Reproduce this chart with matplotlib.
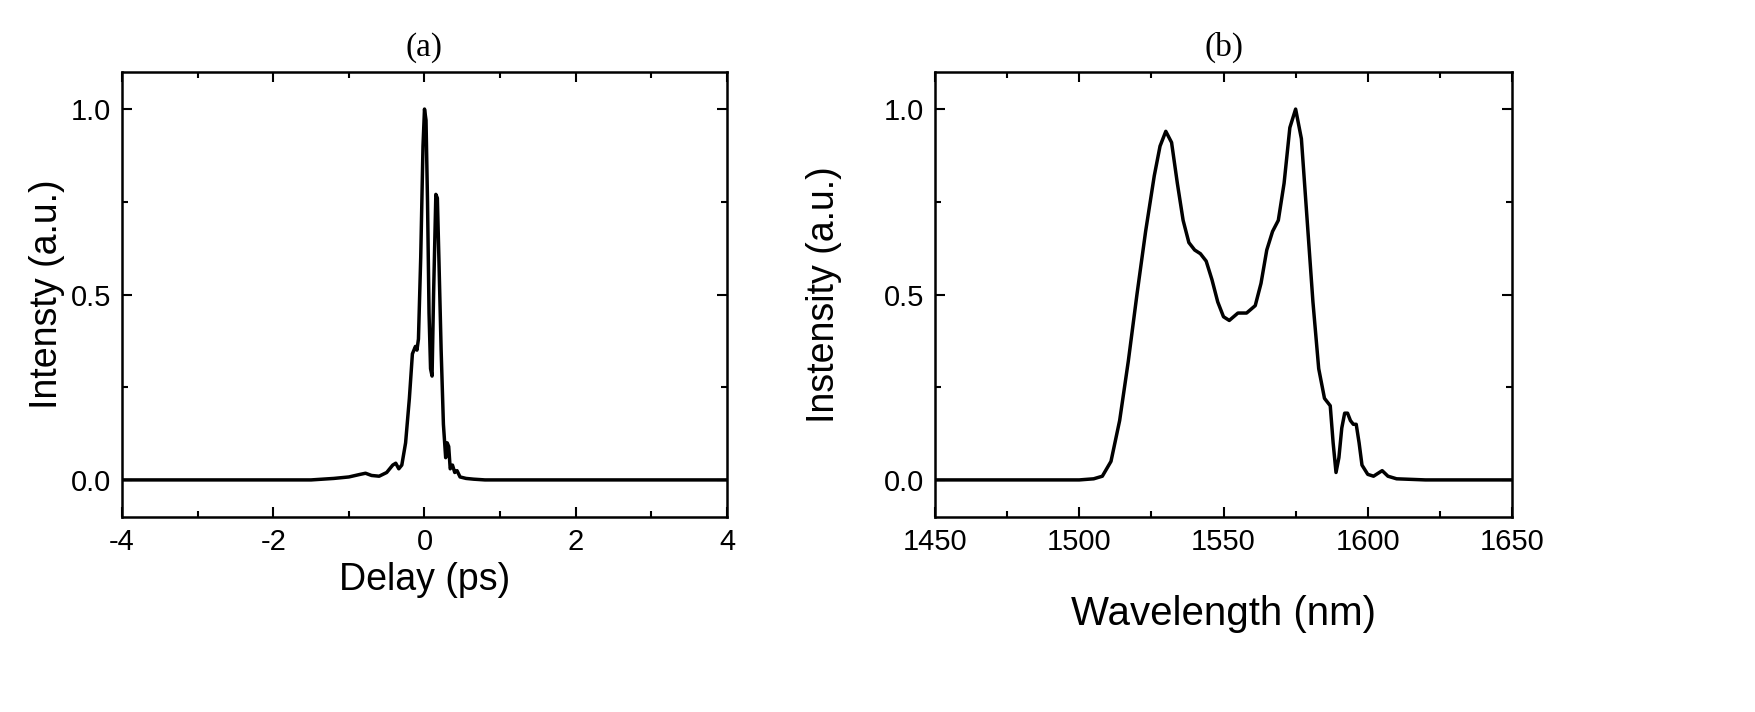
import matplotlib
matplotlib.use('Agg')
import matplotlib.pyplot as plt
from matplotlib.ticker import MultipleLocator

plt.rcParams['font.family'] = ['Liberation Sans', 'DejaVu Sans']
plt.rcParams['axes.unicode_minus'] = False

# ── Data ─────────────────────────────────────────────────────────────────────
delay = [-4.0, -1.5, -1.2, -1.0, -0.85, -0.78, -0.7, -0.6, -0.5, -0.42, -0.38, -0.34,
         -0.3, -0.25, -0.2, -0.16, -0.12, -0.1, -0.08, -0.05, -0.02, 0.0, 0.02, 0.04,
         0.06, 0.08, 0.1, 0.12, 0.15, 0.17, 0.19, 0.22, 0.25, 0.28, 0.3, 0.32, 0.34,
         0.37, 0.4, 0.43, 0.47, 0.55, 0.65, 0.8, 4.0]
intensity = [0.0, 0.0, 0.004, 0.008, 0.015, 0.018, 0.012, 0.01, 0.02, 0.04, 0.045, 0.03,
             0.04, 0.1, 0.22, 0.34, 0.36, 0.35, 0.38, 0.6, 0.9, 1.0, 0.97, 0.75,
             0.45, 0.3, 0.28, 0.5, 0.77, 0.76, 0.6, 0.35, 0.15, 0.06, 0.1, 0.09, 0.03,
             0.04, 0.02, 0.025, 0.008, 0.004, 0.002, 0.0, 0.0]

wavelength = [1450, 1500, 1505, 1508, 1511, 1514, 1517, 1520, 1523, 1526, 1528, 1530,
              1532, 1534, 1536, 1538, 1540, 1542, 1544, 1546, 1548, 1550, 1552, 1555,
              1558, 1561, 1563, 1565, 1567, 1569, 1571, 1573, 1575, 1577, 1579, 1581,
              1583, 1585, 1587, 1588, 1589, 1590, 1591, 1592, 1593, 1594, 1595, 1596,
              1597, 1598, 1600, 1602, 1604, 1605, 1607, 1610, 1620, 1650]
spectrum = [0.0, 0.0, 0.003, 0.01, 0.05, 0.16, 0.32, 0.5, 0.67, 0.82, 0.9, 0.94,
            0.91, 0.8, 0.7, 0.64, 0.62, 0.61, 0.59, 0.54, 0.48, 0.44, 0.43, 0.45,
            0.45, 0.47, 0.53, 0.62, 0.67, 0.7, 0.8, 0.95, 1.0, 0.92, 0.7, 0.48,
            0.3, 0.22, 0.2, 0.1, 0.02, 0.06, 0.14, 0.18, 0.18, 0.16, 0.15, 0.15,
            0.1, 0.04, 0.015, 0.01, 0.02, 0.025, 0.01, 0.003, 0.0, 0.0]

fig = plt.figure(figsize=(17.56, 7.12), dpi=100)
ax1 = fig.add_axes([122/1756, 1 - 517/712, 605/1756, 445/712])
ax2 = fig.add_axes([935/1756, 1 - 517/712, 577/1756, 445/712])

ax1.plot(delay, intensity, color='black', lw=2.5)
ax1.set_xlim(-4, 4)
ax1.set_ylim(-0.1, 1.1)
ax1.xaxis.set_major_locator(MultipleLocator(2))
ax1.xaxis.set_minor_locator(MultipleLocator(1))
ax1.set_xlabel('Delay (ps)', fontsize=27)
ax1.set_ylabel('Intensty (a.u.)', fontsize=27)
ax1.set_title('(a)', fontsize=24, family=['Liberation Serif', 'DejaVu Serif'], pad=12)

ax2.plot(wavelength, spectrum, color='black', lw=2.5)
ax2.set_xlim(1450, 1650)
ax2.set_ylim(-0.1, 1.1)
ax2.xaxis.set_major_locator(MultipleLocator(50))
ax2.xaxis.set_minor_locator(MultipleLocator(25))
ax2.set_xlabel('Wavelength (nm)', fontsize=29, labelpad=28)
ax2.set_ylabel('Instensity (a.u.)', fontsize=27, labelpad=30)
ax2.set_title('(b)', fontsize=24, family=['Liberation Serif', 'DejaVu Serif'], pad=12)

for ax in (ax1, ax2):
    ax.yaxis.set_major_locator(MultipleLocator(0.5))
    ax.yaxis.set_minor_locator(MultipleLocator(0.25))
    ax.tick_params(which='both', direction='in', top=True, right=True, width=1.5)
    ax.tick_params(which='major', length=7, labelsize=21, pad=8)
    ax.tick_params(which='minor', length=4)
    for s in ax.spines.values():
        s.set_linewidth(1.8)

fig.savefig('out.png', dpi=100, facecolor='white')
